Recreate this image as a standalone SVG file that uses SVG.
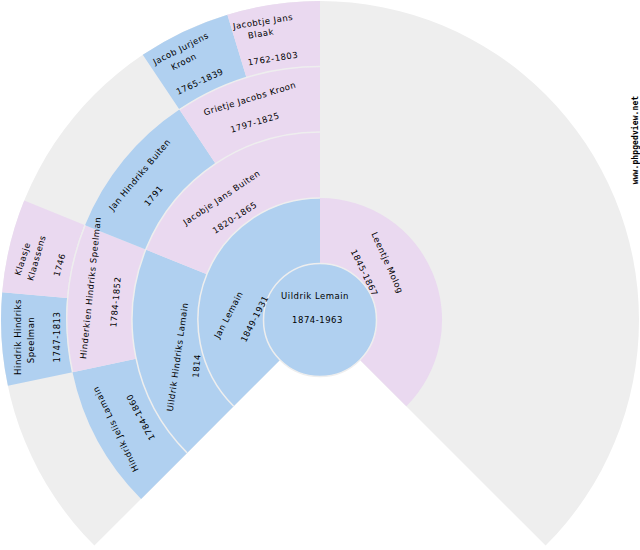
<svg xmlns="http://www.w3.org/2000/svg" width="640" height="550" viewBox="0 0 640 550">
<style>
.m{fill:#b0d0f0}.f{fill:#ead9f0}.a{fill:none;stroke:#eeeeee;stroke-width:1.5}
text{font-family:"DejaVu Sans",sans-serif;font-size:8.5px;letter-spacing:.5px;fill:#000;text-anchor:middle;dominant-baseline:middle}
.w{font-family:"DejaVu Sans Mono",monospace;font-size:8px;font-weight:bold;letter-spacing:.1px}
</style>
<rect width="640" height="550" fill="#fff"/>
<path id="fan" d="M94.4 545.6A319 319 0 1 1 545.6 545.6L320 320Z" fill="#eeeeee"/>
<g id="n-p5">
<path class="m" d="M7.9 385.8A319 319 0 0 1 2.2 292.2L67 297.9A254 254 0 0 0 72.5 372.2Z"/>
<path class="f" d="M2.2 292.2A319 319 0 0 1 24.2 200.5L84.5 224.9A254 254 0 0 0 67 297.9Z"/>
<path class="m" d="M142.8 54.8A319 319 0 0 1 227.4 14.7L246.6 77.9A253 253 0 0 0 179.4 109.6Z"/>
<path class="f" d="M227.4 14.7A319 319 0 0 1 320 1V66.5A253 253 0 0 0 246.6 77.9Z"/>
</g>
<g id="n-p4">
<path class="m" d="M141.1 498.9A253 253 0 0 1 72.5 372.2L136 358.8A188 188 0 0 0 187.1 452.9Z"/>
<path class="f" d="M72.5 372.2A253 253 0 0 1 85 225.2L145.7 249.6A188 188 0 0 0 136 358.8Z"/>
<path class="m" d="M85 225.2A253 253 0 0 1 179.4 109.6L215.6 163.7A188 188 0 0 0 145.7 249.6Z"/>
<path class="f" d="M179.4 109.6A253 253 0 0 1 320 66.5V132A188 188 0 0 0 215.6 163.7Z"/>
</g>
<g id="n-p3">
<path class="m" d="M187.1 452.9A188 188 0 0 1 145.7 249.6L206.9 274.3A122 122 0 0 0 233.7 406.3Z"/>
<path class="f" d="M145.7 249.6A188 188 0 0 1 320 132V198A122 122 0 0 0 206.9 274.3Z"/>
</g>
<g id="n-p2">
<path class="m" d="M233.7 406.3A122 122 0 0 1 320 198V320L279 361Z"/>
<path class="f" d="M320 198A122 122 0 0 1 406.3 406.3L361 361L320 320Z"/>
</g>
<g id="connectors">
<path class="a" d="M72.5 372.2A253 253 0 0 1 85 225.2"/>
<path class="a" d="M179.4 109.6A253 253 0 0 1 320 66.5"/>
<path class="a" d="M187.1 452.9A188 188 0 0 1 320 132"/>
<path class="a" d="M233.7 406.3A122 122 0 0 1 320 198"/>
</g>
<g id="n-root">
<circle cx="320" cy="320" r="56.5" fill="#b0d0f0" stroke="#eeeeee" stroke-width="1.5"/>
<text x="315" y="296">Uildrik Lemain</text>
<text x="317.5" y="320">1874-1963</text>
</g>
<g id="labels">
<text transform="translate(229,315) rotate(-62)">Jan Lemain</text>
<text transform="translate(255,319) rotate(-63)">1849-1931</text>
<text transform="translate(387,263) rotate(66)">Leentje Molog</text>
<text transform="translate(364,273) rotate(64)">1845-1867</text>
<text transform="translate(178,357) rotate(-82)">Uildrik Hindriks Lamain</text>
<text transform="translate(197,366) rotate(-85)">1814</text>
<text transform="translate(222,198) rotate(-34)">Jacobje Jans Buiten</text>
<text transform="translate(235,218) rotate(-33)">1820-1865</text>
<text transform="translate(250,99) rotate(-17)">Grietje Jacobs Kroon</text>
<text transform="translate(255,123) rotate(-17)">1797-1825</text>
<text transform="translate(263,22) rotate(-9)">Jacobtje Jans</text>
<text transform="translate(261,34) rotate(-10)">Blaak</text>
<text transform="translate(273,59) rotate(-9)">1762-1803</text>
<text transform="translate(181,49) rotate(-27)">Jacob Jurjens</text>
<text transform="translate(184,62) rotate(-27)">Kroon</text>
<text transform="translate(200,82) rotate(-25)">1765-1839</text>
<text transform="translate(140,175) rotate(-50)">Jan Hindriks Buiten</text>
<text transform="translate(154,196) rotate(-50)">1791</text>
<text transform="translate(91,288) rotate(-84)">Hinderkien Hindriks Speelman</text>
<text transform="translate(116,302) rotate(-85)">1784-1852</text>
<text transform="translate(23,259) rotate(-72)">Klaasje</text>
<text transform="translate(37,258) rotate(-74)">Klaassens</text>
<text transform="translate(60,265) rotate(-75)">1746</text>
<text transform="translate(18,337) rotate(-90)">Hindrik Hindriks</text>
<text transform="translate(31,340) rotate(-90)">Speelman</text>
<text transform="translate(57,337) rotate(-90)">1747-1813</text>
<text transform="translate(116,429) rotate(-116)">Hindrik Jelis Lamain</text>
<text transform="translate(141,417) rotate(-118)">1784-1860</text>
<text class="w" transform="translate(635.5,140) rotate(-90)">www.phpgedview.net</text>
</g>
</svg>
